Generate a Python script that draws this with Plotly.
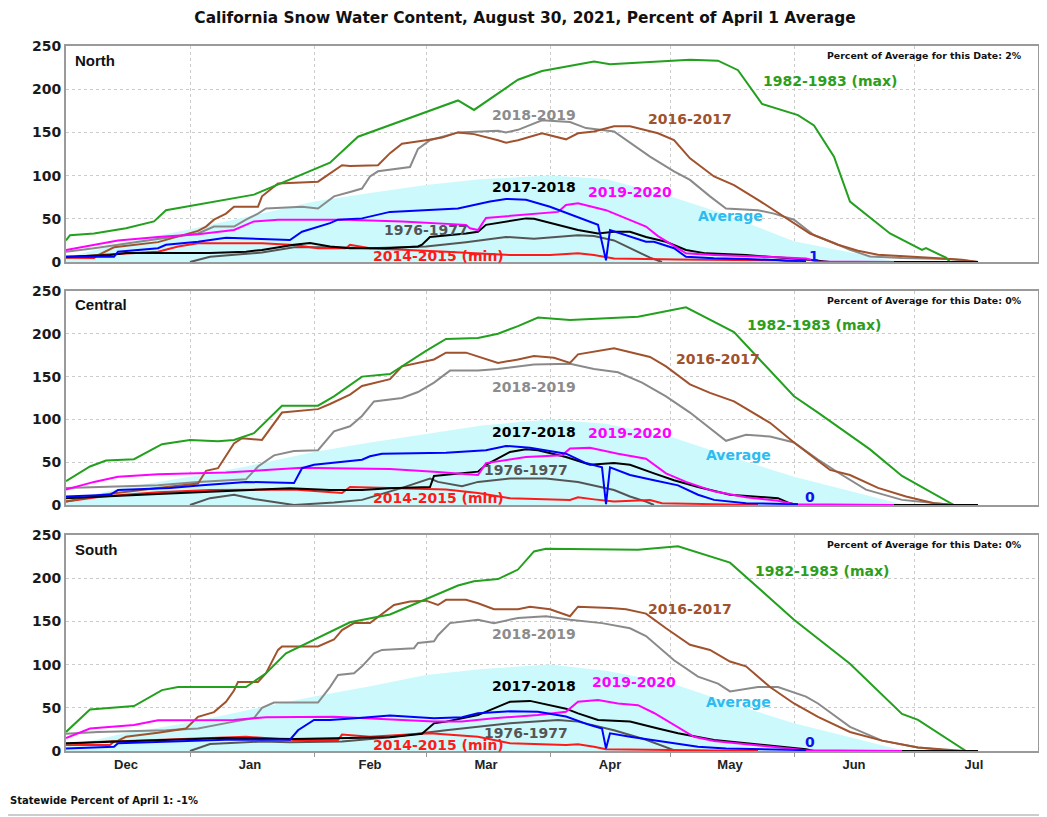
import plotly.graph_objects as go
from plotly.subplots import make_subplots

# ---------------- data ----------------
MONTH_LABELS = ["Dec", "Jan", "Feb", "Mar", "Apr", "May", "Jun", "Jul"]
MONTH_MIDS = ["12-16", "01-16", "02-15", "03-16", "04-16", "05-16", "06-16", "07-16"]
MONTH_STARTS = ["01-01", "02-01", "03-01", "04-01", "05-01", "06-01", "07-01"]
SEASON_RANGE = ["12-01", "08-01"]

TITLE = "California Snow Water Content, August 30, 2021, Percent of April 1 Average"
REGIONS = ["North", "Central", "South"]
PCT_OF_AVG_TODAY = ["2%", "0%", "0%"]
CURRENT_VALUE_LABEL = ["1", "0", "0"]
STATEWIDE = "-1%"

# --- North ---
N_AVG = [("12-01", 5), ("12-15", 22), ("01-01", 38), ("01-15", 52), ("02-01", 70), ("02-15", 80),
         ("03-01", 89), ("03-15", 96), ("04-01", 100), ("04-15", 96), ("05-01", 76), ("05-15", 55),
         ("06-01", 24), ("06-15", 11), ("06-25", 2), ("06-29", 0)]
N_1983 = [("12-01", 25), ("12-02", 31), ("12-08", 33), ("12-16", 39), ("12-23", 47), ("12-26", 60),
          ("01-17", 78), ("02-05", 115), ("02-12", 145), ("03-09", 187), ("03-13", 176), ("03-24", 211),
          ("03-30", 221), ("04-12", 232), ("04-16", 229), ("05-03", 233), ("05-06", 234), ("05-13", 233),
          ("05-18", 222), ("05-24", 183), ("06-02", 170), ("06-06", 158), ("06-11", 122), ("06-15", 70),
          ("06-25", 33), ("07-03", 14), ("07-04", 16), ("07-09", 5), ("07-10", 0)]
N_2017 = [("12-01", 5), ("12-09", 8), ("12-13", 17), ("12-24", 23), ("01-03", 36), ("01-05", 41),
          ("01-07", 49), ("01-10", 56), ("01-12", 64), ("01-18", 64), ("01-19", 76), ("01-23", 91),
          ("02-02", 93), ("02-06", 105), ("02-08", 112), ("02-10", 111), ("02-17", 112), ("02-20", 126),
          ("02-23", 137), ("03-01", 141), ("03-05", 144), ("03-09", 150), ("03-13", 148), ("03-19", 141),
          ("03-21", 138), ("03-24", 141), ("03-30", 149), ("04-05", 142), ("04-08", 149), ("04-12", 151),
          ("04-17", 157), ("04-21", 157), ("04-28", 149), ("05-02", 141), ("05-06", 120), ("05-12", 99),
          ("05-17", 89), ("05-23", 72), ("05-30", 51), ("06-05", 33), ("06-12", 20), ("06-17", 13),
          ("06-22", 8.5), ("06-28", 6.5), ("07-06", 4.6), ("07-13", 2.7), ("07-17", 0)]
N_2019 = [("12-01", 12), ("12-08", 16), ("12-23", 26), ("01-03", 33), ("01-07", 41), ("01-12", 41),
          ("01-15", 49), ("01-18", 56), ("01-20", 62), ("01-29", 64), ("02-02", 62), ("02-06", 76),
          ("02-10", 81), ("02-13", 85), ("02-15", 99), ("02-17", 105), ("02-25", 110), ("02-27", 131),
          ("03-02", 141), ("03-09", 150), ("03-19", 152), ("03-21", 150), ("03-24", 153), ("03-30", 164),
          ("04-06", 162), ("04-10", 155), ("04-17", 151), ("04-20", 141), ("04-26", 122), ("05-02", 105),
          ("05-06", 95), ("05-11", 76), ("05-15", 62), ("05-23", 60), ("05-27", 56), ("06-01", 49),
          ("06-06", 31), ("06-11", 22), ("06-15", 14), ("06-20", 6.5), ("06-28", 4.6), ("07-10", 3.5),
          ("07-17", 0)]
N_2021 = [("12-01", 6), ("12-13", 6), ("12-14", 12), ("12-24", 16), ("12-26", 20), ("01-03", 23.5),
          ("01-10", 28), ("01-26", 25.5), ("01-29", 35), ("02-05", 45), ("02-07", 49), ("02-13", 50.5),
          ("02-20", 58), ("03-01", 60), ("03-09", 62), ("03-17", 70), ("03-21", 73), ("03-26", 72),
          ("04-01", 64), ("04-13", 43), ("04-15", 2), ("04-16", 37), ("04-21", 29), ("04-25", 23.5),
          ("04-27", 23.5), ("05-02", 16), ("05-05", 6), ("05-12", 4.4), ("05-20", 3.5), ("06-04", 1)]
N_2020 = [("12-01", 14), ("12-08", 20), ("12-14", 25), ("12-24", 29), ("01-03", 32), ("01-12", 37),
          ("01-17", 47), ("01-23", 49), ("02-09", 49), ("02-23", 47), ("03-03", 45), ("03-11", 43),
          ("03-12", 39), ("03-14", 37), ("03-16", 51), ("03-24", 54), ("04-03", 58), ("04-05", 66),
          ("04-08", 68), ("04-15", 60), ("04-21", 49), ("04-25", 41), ("04-28", 30), ("05-02", 18),
          ("05-05", 10), ("05-12", 8), ("05-20", 7), ("05-28", 5.4), ("06-04", 4), ("06-07", 0.5),
          ("06-26", 0)]
N_2018 = [("12-01", 6), ("12-12", 8), ("12-16", 10.5), ("01-06", 10.5), ("01-15", 12), ("01-19", 14),
          ("01-27", 20), ("01-31", 22), ("02-05", 18), ("02-10", 16), ("02-19", 16), ("02-27", 18),
          ("02-28", 20), ("03-02", 29), ("03-11", 33), ("03-14", 35), ("03-16", 43), ("03-26", 50.5),
          ("03-28", 50), ("04-08", 37), ("04-13", 33), ("04-17", 35), ("04-21", 35), ("04-25", 29),
          ("04-30", 23.5), ("05-05", 14), ("05-10", 10), ("05-20", 8), ("05-31", 4.3), ("06-04", 3),
          ("06-10", 0), ("07-17", 0)]
N_1977 = [("01-01", 0), ("01-06", 6), ("01-19", 11), ("01-27", 17), ("02-05", 17), ("02-15", 16),
          ("03-01", 18), ("03-11", 23), ("03-21", 29), ("03-28", 27), ("04-08", 31), ("04-12", 30),
          ("04-17", 25), ("04-21", 16), ("04-26", 5), ("04-29", 0)]
N_2015 = [("12-01", 5), ("12-08", 4.6), ("12-09", 8), ("12-24", 12), ("12-29", 18), ("01-03", 21.6),
          ("01-19", 21.6), ("01-27", 19.7), ("02-02", 16), ("02-09", 16), ("02-10", 20), ("02-15", 16),
          ("03-06", 12), ("03-22", 8), ("04-01", 8), ("04-08", 10), ("04-12", 8), ("04-17", 4),
          ("05-03", 3), ("05-28", 2), ("06-02", 0)]

# --- Central ---
C_AVG = [("12-01", 5), ("12-15", 20), ("01-01", 33), ("01-15", 45), ("02-01", 62), ("02-15", 73),
         ("03-01", 83), ("03-15", 93), ("04-01", 100), ("04-15", 95), ("05-01", 80), ("05-15", 58),
         ("06-01", 33), ("06-15", 16), ("06-28", 1), ("07-01", 0)]
C_1983 = [("12-01", 28), ("12-07", 45), ("12-11", 52), ("12-18", 53.5), ("12-25", 71), ("01-01", 76),
          ("01-08", 74.6), ("01-12", 76), ("01-17", 84), ("01-24", 116), ("02-02", 116), ("02-06", 127),
          ("02-13", 150), ("02-20", 153), ("03-01", 180), ("03-06", 194), ("03-14", 195), ("03-19", 200),
          ("03-24", 209), ("03-29", 219), ("04-06", 216), ("04-23", 220), ("05-05", 231), ("05-11", 216),
          ("05-17", 202), ("05-23", 172), ("06-01", 127), ("06-07", 108), ("06-15", 82), ("06-20", 65),
          ("06-28", 34), ("07-04", 18), ("07-11", 0)]
C_2017 = [("12-01", 4), ("12-10", 12), ("12-24", 20), ("01-03", 25), ("01-05", 40), ("01-08", 43),
          ("01-12", 72), ("01-14", 78), ("01-19", 76), ("01-24", 108), ("02-02", 112), ("02-05", 118),
          ("02-10", 129), ("02-13", 139), ("02-20", 147), ("02-23", 162), ("03-03", 170), ("03-06", 178),
          ("03-11", 178), ("03-15", 172), ("03-19", 166), ("03-24", 170), ("03-28", 174), ("04-02", 172),
          ("04-06", 166), ("04-08", 176), ("04-17", 183), ("04-26", 173), ("04-30", 162), ("05-06", 141),
          ("05-11", 131), ("05-17", 121), ("05-26", 96), ("06-01", 73), ("06-10", 41), ("06-15", 35),
          ("06-22", 20), ("06-29", 10), ("07-06", 2), ("07-11", 0)]
C_2019 = [("12-01", 20), ("12-24", 23), ("01-03", 27), ("01-15", 30), ("01-18", 45), ("01-22", 58),
          ("01-27", 63), ("02-02", 64), ("02-06", 86), ("02-10", 92), ("02-13", 104), ("02-16", 121),
          ("02-23", 125), ("02-27", 132), ("03-03", 143), ("03-07", 157), ("03-14", 157), ("03-19", 159),
          ("03-28", 164), ("04-06", 165), ("04-12", 159), ("04-18", 155), ("04-24", 143), ("04-30", 127),
          ("05-06", 108), ("05-15", 75), ("05-20", 82), ("05-26", 80), ("06-01", 73), ("06-07", 53),
          ("06-12", 38), ("06-19", 18), ("06-28", 6), ("07-06", 2), ("07-11", 0)]
C_2021 = [("12-01", 10), ("12-12", 12), ("12-14", 17.5), ("12-27", 20), ("01-04", 23), ("01-15", 27),
          ("01-27", 25.6), ("01-29", 43), ("02-01", 47), ("02-05", 49), ("02-13", 53), ("02-15", 57),
          ("02-18", 60), ("03-06", 61), ("03-16", 64), ("03-21", 69), ("03-27", 67), ("04-05", 60),
          ("04-10", 49), ("04-14", 44), ("04-15", 1), ("04-16", 44), ("04-21", 35), ("04-27", 29),
          ("05-03", 23), ("05-08", 12), ("05-12", 6), ("05-20", 2), ("06-02", 1)]
C_2020 = [("12-01", 18), ("12-08", 27), ("12-14", 33), ("12-24", 36), ("01-10", 38), ("01-19", 41),
          ("01-29", 43.5), ("02-06", 43), ("02-20", 42), ("03-03", 39), ("03-14", 35), ("03-16", 49),
          ("03-26", 56), ("04-04", 58), ("04-06", 66), ("04-11", 67), ("04-18", 60), ("04-25", 54),
          ("04-30", 37), ("05-05", 27), ("05-12", 16), ("05-20", 9), ("05-28", 5), ("06-01", 1),
          ("06-26", 0)]
C_2018 = [("12-01", 8), ("12-12", 10), ("12-24", 13), ("01-06", 15.6), ("01-15", 17.5), ("01-26", 19.7),
          ("02-05", 17.5), ("02-13", 17.5), ("02-20", 19.7), ("03-02", 21), ("03-03", 34), ("03-14", 39),
          ("03-16", 47), ("03-22", 62), ("03-26", 65), ("03-29", 64), ("04-05", 56), ("04-11", 47),
          ("04-17", 49), ("04-21", 47), ("04-27", 37), ("05-02", 29), ("05-08", 21), ("05-16", 12),
          ("05-28", 8), ("05-31", 2), ("06-02", 0), ("07-17", 0)]
C_1977 = [("01-01", 0), ("01-06", 8), ("01-12", 12), ("01-17", 7), ("01-27", 0), ("02-06", 3),
          ("02-13", 6), ("02-23", 20), ("03-02", 31), ("03-04", 27), ("03-10", 22), ("03-14", 27),
          ("03-22", 31), ("03-31", 31), ("04-08", 27), ("04-17", 17.5), ("04-21", 10), ("04-25", 4),
          ("04-27", 0)]
C_2015 = [("12-01", 4), ("12-10", 10), ("12-24", 15), ("01-06", 17.5), ("01-27", 18), ("02-05", 15.6),
          ("02-08", 14), ("02-10", 21), ("03-01", 19), ("03-06", 18), ("03-14", 14), ("03-22", 8),
          ("04-06", 6), ("04-08", 9), ("04-12", 6.6), ("04-17", 4), ("04-26", 5.8), ("04-29", 2),
          ("05-12", 1), ("05-23", 0)]

# --- South ---
S_AVG = [("12-01", 5), ("12-15", 20), ("01-01", 33), ("01-15", 47), ("02-01", 63), ("02-15", 75),
         ("03-01", 88), ("03-15", 95), ("04-01", 100), ("04-15", 93), ("05-01", 79), ("05-15", 57),
         ("06-01", 32), ("06-15", 16), ("06-28", 1), ("07-01", 0)]
S_1983 = [("12-01", 22), ("12-07", 48), ("12-18", 52), ("12-25", 70.5), ("12-29", 74), ("01-15", 74),
          ("01-20", 90), ("01-25", 113), ("02-10", 149), ("02-20", 158), ("03-09", 191.5), ("03-13", 196.5),
          ("03-19", 199), ("03-24", 210), ("03-28", 231), ("03-31", 234), ("04-23", 233), ("05-03", 237),
          ("05-16", 218), ("06-01", 152), ("06-15", 101), ("06-28", 43), ("07-02", 36), ("07-14", 0)]
S_2017 = [("12-01", 8), ("12-14", 12), ("12-16", 16.5), ("12-24", 21), ("12-31", 26), ("01-03", 39.5),
          ("01-07", 45), ("01-10", 57), ("01-12", 70), ("01-13", 80), ("01-18", 80), ("01-20", 90),
          ("01-23", 117), ("01-24", 121), ("02-02", 121), ("02-06", 129), ("02-08", 140), ("02-11", 148),
          ("02-15", 148), ("02-18", 158), ("02-21", 169), ("02-25", 173), ("03-01", 174), ("03-04", 169),
          ("03-06", 175), ("03-11", 175), ("03-14", 171), ("03-18", 164), ("03-24", 164), ("03-27", 167),
          ("04-01", 164), ("04-06", 156), ("04-08", 167), ("04-16", 165.5), ("04-20", 164), ("04-25", 159),
          ("04-30", 142), ("05-06", 123), ("05-11", 117), ("05-16", 103.5), ("05-20", 98), ("05-26", 74),
          ("06-01", 55), ("06-07", 39.5), ("06-15", 22), ("06-23", 12), ("07-02", 4), ("07-11", 0.8),
          ("07-14", 0)]
S_2019 = [("12-01", 20), ("12-09", 22), ("12-26", 24), ("01-03", 26), ("01-12", 34), ("01-17", 38),
          ("01-19", 50), ("01-22", 56), ("02-02", 56), ("02-05", 74), ("02-07", 88), ("02-11", 90),
          ("02-13", 98), ("02-16", 113), ("02-18", 117), ("02-26", 119), ("02-27", 125), ("03-03", 127),
          ("03-04", 134), ("03-07", 148), ("03-14", 152), ("03-18", 148), ("03-24", 154), ("03-31", 156),
          ("04-06", 152), ("04-14", 148), ("04-21", 142), ("04-25", 133), ("05-02", 105), ("05-08", 86),
          ("05-13", 78), ("05-16", 69), ("05-23", 74), ("05-28", 74), ("06-04", 63), ("06-07", 55),
          ("06-15", 28), ("06-23", 12), ("07-02", 4), ("07-11", 0)]
S_2021 = [("12-01", 3), ("12-13", 5), ("12-14", 9), ("12-28", 11), ("01-10", 13), ("01-26", 13),
          ("01-28", 24), ("02-01", 36), ("02-05", 36), ("02-13", 38.5), ("02-20", 41), ("03-03", 38),
          ("03-10", 39), ("03-14", 43.6), ("03-22", 46), ("03-29", 45.5), ("04-05", 40), ("04-11", 30),
          ("04-14", 26), ("04-15", 3), ("04-16", 20.5), ("04-21", 16.5), ("04-27", 12.7), ("05-03", 9),
          ("05-08", 5), ("05-15", 3), ("06-04", 1)]
S_2020 = [("12-01", 15), ("12-07", 26), ("12-18", 30), ("12-24", 35.7), ("01-12", 36), ("01-20", 39),
          ("02-06", 39.5), ("02-15", 37.6), ("03-03", 34), ("03-10", 34), ("03-18", 38), ("03-29", 41.6),
          ("04-05", 45.5), ("04-08", 57), ("04-13", 59), ("04-18", 55), ("04-23", 53), ("04-27", 44),
          ("05-03", 28), ("05-07", 16.5), ("05-12", 11.6), ("05-20", 7.7), ("05-28", 4), ("06-04", 1),
          ("06-28", 0)]
S_2018 = [("12-01", 9), ("12-12", 10.8), ("12-24", 12.7), ("01-10", 15), ("01-27", 14), ("02-05", 15),
          ("02-20", 16), ("02-28", 20), ("03-03", 32), ("03-06", 34), ("03-14", 41.6), ("03-22", 57),
          ("03-27", 58), ("04-05", 49), ("04-08", 43.6), ("04-13", 36), ("04-21", 34), ("04-28", 26),
          ("05-03", 20.5), ("05-12", 12.7), ("05-20", 9), ("05-28", 5), ("06-04", 2), ("06-06", 0),
          ("07-17", 0)]
S_1977 = [("01-01", 0), ("01-06", 8), ("01-19", 11), ("01-26", 10), ("02-08", 11), ("02-18", 15),
          ("03-06", 24), ("03-22", 32), ("04-03", 36), ("04-08", 34), ("04-17", 24), ("04-25", 13),
          ("05-02", 1), ("05-03", 0)]
S_2015 = [("12-01", 7), ("12-12", 7), ("12-13", 11), ("12-24", 12.7), ("01-06", 14.7), ("01-15", 16.5),
          ("01-27", 12.7), ("02-07", 12.7), ("02-08", 19), ("02-15", 16.5), ("03-02", 20.5), ("03-14", 16.5),
          ("03-22", 9), ("04-05", 7), ("04-08", 7.7), ("04-12", 5), ("04-15", 2), ("05-12", 1),
          ("05-23", 0)]

SERIES_NAMES = ["1976-1977", "2014-2015 (min)", "2018-2019", "2016-2017", "1982-1983 (max)",
                "2017-2018", "2019-2020", "2020-2021"]
REGION_SERIES = [
    [N_1977, N_2015, N_2019, N_2017, N_1983, N_2018, N_2020, N_2021],
    [C_1977, C_2015, C_2019, C_2017, C_1983, C_2018, C_2020, C_2021],
    [S_1977, S_2015, S_2019, S_2017, S_1983, S_2018, S_2020, S_2021],
]
REGION_AVG = [N_AVG, C_AVG, S_AVG]

N_LABELS = {"1982-1983 (max)": ("06-10", 209), "2016-2017": ("05-06", 165), "2018-2019": ("03-28", 170),
            "2017-2018": ("03-28", 87), "2019-2020": ("04-21", 81), "Average": ("05-16", 53),
            "1976-1977": ("03-01", 37), "2014-2015 (min)": ("03-04", 7), "current": ("06-06", 7)}
C_LABELS = {"1982-1983 (max)": ("06-06", 210), "2016-2017": ("05-13", 170), "2018-2019": ("03-28", 138),
            "2017-2018": ("03-28", 85), "2019-2020": ("04-21", 84), "Average": ("05-18", 58),
            "1976-1977": ("03-26", 41), "2014-2015 (min)": ("03-04", 8), "current": ("06-05", 9)}
S_LABELS = {"1982-1983 (max)": ("06-08", 208), "2016-2017": ("05-06", 164), "2018-2019": ("03-28", 135),
            "2017-2018": ("03-28", 75), "2019-2020": ("04-22", 80), "Average": ("05-18", 57),
            "1976-1977": ("03-26", 21), "2014-2015 (min)": ("03-04", 7), "current": ("06-05", 10)}
REGION_LABELS = [N_LABELS, C_LABELS, S_LABELS]

# ---------------- styles ----------------
COLORS = {"1976-1977": "#555555", "2014-2015 (min)": "#ff1a1a", "2018-2019": "#8a8a8a",
          "2016-2017": "#a0522d", "1982-1983 (max)": "#22a01e", "2017-2018": "#000000",
          "2019-2020": "#ff00ff", "2020-2021": "#0000ff", "Average": "#2ebcf0", "current": "#1010ee"}
LABEL_COLORS = dict(COLORS)
LABEL_COLORS["2018-2019"] = "#8c8c8c"
LABEL_COLORS["1982-1983 (max)"] = "#2e9e1a"
AVG_FILL = "#ccfafc"
GRID = "#cccccc"
FRAME = "#9a9a9a"
WIDE = "DejaVu Sans"
SANS = "Liberation Sans"

# The page body has an 8px margin: the figure is sized/margined to land the plot
# frames at the reference pixel positions.
PAGE_OFF = 8
FIG_W, FIG_H = 1047 - PAGE_OFF, 817 - PAGE_OFF
M_L, M_R, M_T, M_B = 66 - PAGE_OFF, 7, 46 - PAGE_OFF, 66
PLOT_H = FIG_H - M_T - M_B
PLOT_W = FIG_W - M_L - M_R


def to_date(md):
    m = int(md[:2])
    return ("2018-" if m >= 10 else "2019-") + md


def unzip(pairs):
    return [to_date(d) for d, _ in pairs], [v for _, v in pairs]


fig = make_subplots(rows=3, cols=1)

domains = [(0.6936, 1.0), (0.3489, 0.6525), (0.0, 0.3064)]

for r in range(3):
    row = r + 1
    ax, ay = unzip(REGION_AVG[r])
    fig.add_trace(go.Scatter(x=ax, y=ay, mode="lines", fill="tozeroy", fillcolor=AVG_FILL,
                             line=dict(width=0, color=AVG_FILL), hoverinfo="skip"), row=row, col=1)
    for name, pairs in zip(SERIES_NAMES, REGION_SERIES[r]):
        xs, ys = unzip(pairs)
        fig.add_trace(go.Scatter(x=xs, y=ys, mode="lines", name=name,
                                 line=dict(color=COLORS[name], width=2)), row=row, col=1)

    xname = "xaxis" if r == 0 else f"xaxis{row}"
    yname = "yaxis" if r == 0 else f"yaxis{row}"
    xref = "x" if r == 0 else f"x{row}"
    yref = "y" if r == 0 else f"y{row}"
    bottom = (r == 2)
    fig.layout[xname].update(
        type="date", range=[to_date(SEASON_RANGE[0]), to_date(SEASON_RANGE[1])],
        tickmode="array", tickvals=[to_date(m) for m in MONTH_MIDS], ticktext=MONTH_LABELS,
        showticklabels=bottom, ticks="", showgrid=False, zeroline=False,
        showline=True, linecolor=FRAME, linewidth=2, mirror=True,
        tickfont=dict(family=SANS, size=13, color="#222222", weight="bold"),
        minor=dict(tickmode="array", tickvals=[to_date(m) for m in MONTH_STARTS],
                   showgrid=True, gridcolor=GRID, griddash="dot", gridwidth=1,
                   ticks="outside" if bottom else "", ticklen=4, tickcolor=FRAME),
    )
    fig.layout[yname].update(
        domain=list(domains[r]), range=[0, 250], tickmode="array",
        tickvals=[0, 50, 100, 150, 200, 250], showgrid=True, gridcolor=GRID, griddash="dot",
        zeroline=False, showline=True, linecolor=FRAME, linewidth=2, mirror=True, ticks="",
        tickfont=dict(family=WIDE, size=14, color="#1a1a1a", weight="bold"),
    )

    fig.add_annotation(xref=f"{xref} domain", yref=f"{yref} domain", x=0.007, y=0.935,
                       xanchor="left", yanchor="middle", showarrow=False, text=REGIONS[r],
                       font=dict(family=SANS, size=15, color="#111111", weight="bold"))
    fig.add_annotation(xref=f"{xref} domain", yref=f"{yref} domain", x=0.9855, y=0.955,
                       xanchor="right", yanchor="middle", showarrow=False,
                       text=f"Percent of Average for this Date: {PCT_OF_AVG_TODAY[r]}",
                       font=dict(family=WIDE, size=9.4, color="#111111", weight="bold"))
    for key, (d, v) in REGION_LABELS[r].items():
        txt = CURRENT_VALUE_LABEL[r] if key == "current" else key
        fig.add_annotation(xref=xref, yref=yref, x=to_date(d), y=v, text=txt, showarrow=False,
                           xanchor="center", yanchor="middle",
                           font=dict(family=WIDE, size=14, color=LABEL_COLORS[key], weight="bold"))

fig.add_annotation(xref="paper", yref="paper", x=-(M_L - 0) / PLOT_W, y=-(800 - 751) / PLOT_H,
                   xanchor="left", yanchor="middle", showarrow=False,
                   text=f"Statewide Percent of April 1: {STATEWIDE}",
                   font=dict(family=WIDE, size=10, color="#111111", weight="bold"))
fig.add_shape(type="line", xref="paper", yref="paper", x0=-M_L / PLOT_W, x1=1 + M_R / PLOT_W,
              y0=-(815 - 751) / PLOT_H, y1=-(815 - 751) / PLOT_H,
              line=dict(color="#9a9a9a", width=1))

fig.update_layout(
    width=FIG_W, height=FIG_H, autosize=False,
    margin=dict(l=M_L, r=M_R, t=M_T, b=M_B),
    paper_bgcolor="white", plot_bgcolor="white",
    showlegend=False, hovermode=False,
    title=dict(text=TITLE, x=(525 - PAGE_OFF) / FIG_W, xref="container", xanchor="center",
               y=1 - (18 - PAGE_OFF) / FIG_H, yref="container", yanchor="middle",
               font=dict(family=WIDE, size=15.4, color="#111111", weight="bold")),
)

fig.write_html("out.html")
